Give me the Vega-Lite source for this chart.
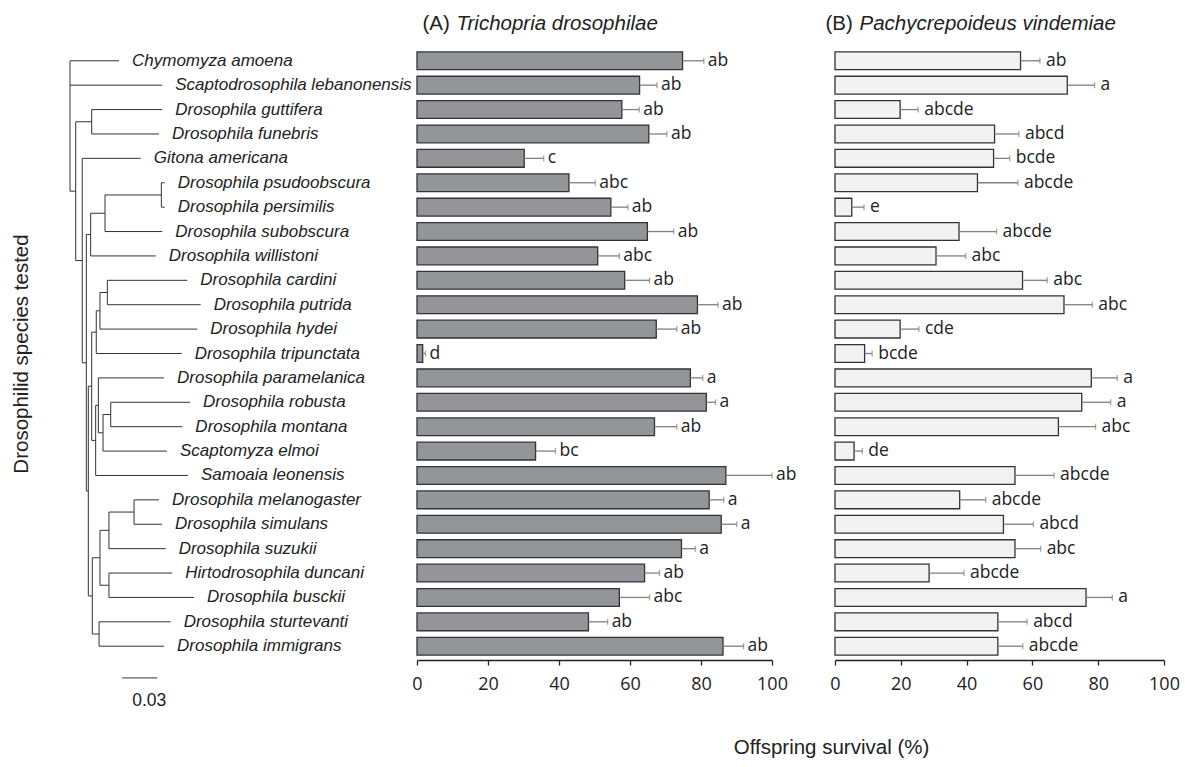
{
  "$schema": "https://vega.github.io/schema/vega-lite/v6.json",
  "background": "white",
  "padding": {"left": 11, "top": 13, "right": 5, "bottom": 5},
  "bounds": "flush",
  "spacing": 4,
  "config": {"view": {"stroke": null}, "font": "Liberation Sans"},
  "datasets": {
    "species": [
      {"row": 1, "species": "Chymomyza amoena", "tip": 0.0420, "A": 74.8, "Ahi": 80.8, "Alab": "ab", "B": 56.4, "Bhi": 62.3, "Blab": "ab"},
      {"row": 2, "species": "Scaptodrosophila lebanonensis", "tip": 0.0791, "A": 62.7, "Ahi": 67.6, "Alab": "ab", "B": 70.6, "Bhi": 78.9, "Blab": "a"},
      {"row": 3, "species": "Drosophila guttifera", "tip": 0.0791, "A": 57.7, "Ahi": 62.6, "Alab": "ab", "B": 19.8, "Bhi": 25.3, "Blab": "abcde"},
      {"row": 4, "species": "Drosophila funebris", "tip": 0.0763, "A": 65.3, "Ahi": 70.4, "Alab": "ab", "B": 48.5, "Bhi": 55.9, "Blab": "abcd"},
      {"row": 5, "species": "Gitona americana", "tip": 0.0606, "A": 30.2, "Ahi": 35.7, "Alab": "c", "B": 48.2, "Bhi": 53.1, "Blab": "bcde"},
      {"row": 6, "species": "Drosophila psudoobscura", "tip": 0.0812, "A": 42.8, "Ahi": 50.2, "Alab": "abc", "B": 43.3, "Bhi": 55.6, "Blab": "abcde"},
      {"row": 7, "species": "Drosophila persimilis", "tip": 0.0812, "A": 54.6, "Ahi": 59.4, "Alab": "ab", "B": 5.1, "Bhi": 8.8, "Blab": "e"},
      {"row": 8, "species": "Drosophila subobscura", "tip": 0.0791, "A": 64.9, "Ahi": 72.3, "Alab": "ab", "B": 37.7, "Bhi": 49.1, "Blab": "abcde"},
      {"row": 9, "species": "Drosophila willistoni", "tip": 0.0735, "A": 50.9, "Ahi": 57.0, "Alab": "abc", "B": 30.7, "Bhi": 39.7, "Blab": "abc"},
      {"row": 10, "species": "Drosophila cardini", "tip": 0.1005, "A": 58.5, "Ahi": 65.5, "Alab": "ab", "B": 57.0, "Bhi": 64.5, "Blab": "abc"},
      {"row": 11, "species": "Drosophila putrida", "tip": 0.1120, "A": 79.0, "Ahi": 84.8, "Alab": "ab", "B": 69.6, "Bhi": 78.2, "Blab": "abc"},
      {"row": 12, "species": "Drosophila hydei", "tip": 0.1091, "A": 67.4, "Ahi": 73.2, "Alab": "ab", "B": 19.8, "Bhi": 25.5, "Blab": "cde"},
      {"row": 13, "species": "Drosophila tripunctata", "tip": 0.0957, "A": 1.6, "Ahi": 2.4, "Alab": "d", "B": 9.0, "Bhi": 11.3, "Blab": "bcde"},
      {"row": 14, "species": "Drosophila paramelanica", "tip": 0.0806, "A": 77.0, "Ahi": 80.5, "Alab": "a", "B": 77.9, "Bhi": 85.8, "Blab": "a"},
      {"row": 15, "species": "Drosophila robusta", "tip": 0.1029, "A": 81.5, "Ahi": 84.1, "Alab": "a", "B": 75.0, "Bhi": 83.8, "Blab": "a"},
      {"row": 16, "species": "Drosophila montana", "tip": 0.0963, "A": 66.9, "Ahi": 73.2, "Alab": "ab", "B": 67.9, "Bhi": 79.2, "Blab": "abc"},
      {"row": 17, "species": "Scaptomyza elmoi", "tip": 0.0831, "A": 33.4, "Ahi": 39.0, "Alab": "bc", "B": 5.8, "Bhi": 8.3, "Blab": "de"},
      {"row": 18, "species": "Samoaia leonensis", "tip": 0.1011, "A": 87.0, "Ahi": 100.0, "Alab": "ab", "B": 54.7, "Bhi": 66.6, "Blab": "abcde"},
      {"row": 19, "species": "Drosophila melanogaster", "tip": 0.0763, "A": 82.3, "Ahi": 86.4, "Alab": "a", "B": 37.9, "Bhi": 45.8, "Blab": "abcde"},
      {"row": 20, "species": "Drosophila simulans", "tip": 0.0789, "A": 85.7, "Ahi": 90.1, "Alab": "a", "B": 51.2, "Bhi": 60.3, "Blab": "abcd"},
      {"row": 21, "species": "Drosophila suzukii", "tip": 0.0820, "A": 74.5, "Ahi": 78.4, "Alab": "a", "B": 54.7, "Bhi": 62.5, "Blab": "abc"},
      {"row": 22, "species": "Hirtodrosophila duncani", "tip": 0.0877, "A": 64.1, "Ahi": 68.3, "Alab": "ab", "B": 28.6, "Bhi": 39.2, "Blab": "abcde"},
      {"row": 23, "species": "Drosophila busckii", "tip": 0.1063, "A": 57.0, "Ahi": 65.5, "Alab": "abc", "B": 76.3, "Bhi": 84.3, "Blab": "a"},
      {"row": 24, "species": "Drosophila sturtevanti", "tip": 0.0863, "A": 48.3, "Ahi": 53.7, "Alab": "ab", "B": 49.5, "Bhi": 58.4, "Blab": "abcd"},
      {"row": 25, "species": "Drosophila immigrans", "tip": 0.0806, "A": 86.2, "Ahi": 92.0, "Alab": "ab", "B": 49.5, "Bhi": 57.1, "Blab": "abcde"}
    ],
    "tree": [
      {"x": 0, "x2": 0, "y": 1, "y2": 6.345},
      {"x": 0, "x2": 0.0420, "y": 1, "y2": 1},
      {"x": 0, "x2": 0.0791, "y": 2, "y2": 2},
      {"x": 0, "x2": 0.0049, "y": 6.345, "y2": 6.345},
      {"x": 0.0049, "x2": 0.0049, "y": 3.5, "y2": 9.19},
      {"x": 0.0049, "x2": 0.0186, "y": 3.5, "y2": 3.5},
      {"x": 0.0186, "x2": 0.0186, "y": 3, "y2": 4},
      {"x": 0.0186, "x2": 0.0791, "y": 3, "y2": 3},
      {"x": 0.0186, "x2": 0.0763, "y": 4, "y2": 4},
      {"x": 0.0049, "x2": 0.0105, "y": 9.19, "y2": 9.19},
      {"x": 0.0105, "x2": 0.0105, "y": 5, "y2": 13.38},
      {"x": 0.0105, "x2": 0.0606, "y": 5, "y2": 5},
      {"x": 0.0105, "x2": 0.0140, "y": 13.38, "y2": 13.38},
      {"x": 0.0140, "x2": 0.0140, "y": 8.125, "y2": 18.64},
      {"x": 0.0140, "x2": 0.0177, "y": 8.125, "y2": 8.125},
      {"x": 0.0177, "x2": 0.0177, "y": 7.25, "y2": 9},
      {"x": 0.0177, "x2": 0.0300, "y": 7.25, "y2": 7.25},
      {"x": 0.0300, "x2": 0.0300, "y": 6.5, "y2": 8},
      {"x": 0.0300, "x2": 0.0783, "y": 6.5, "y2": 6.5},
      {"x": 0.0783, "x2": 0.0783, "y": 6, "y2": 7},
      {"x": 0.0783, "x2": 0.0812, "y": 6, "y2": 6},
      {"x": 0.0783, "x2": 0.0812, "y": 7, "y2": 7},
      {"x": 0.0300, "x2": 0.0791, "y": 8, "y2": 8},
      {"x": 0.0177, "x2": 0.0735, "y": 9, "y2": 9},
      {"x": 0.0140, "x2": 0.0157, "y": 18.64, "y2": 18.64},
      {"x": 0.0157, "x2": 0.0157, "y": 14.34, "y2": 22.94},
      {"x": 0.0157, "x2": 0.0186, "y": 14.34, "y2": 14.34},
      {"x": 0.0186, "x2": 0.0186, "y": 12.125, "y2": 16.5625},
      {"x": 0.0186, "x2": 0.0225, "y": 12.125, "y2": 12.125},
      {"x": 0.0225, "x2": 0.0225, "y": 11.25, "y2": 13},
      {"x": 0.0225, "x2": 0.0257, "y": 11.25, "y2": 11.25},
      {"x": 0.0257, "x2": 0.0257, "y": 10.5, "y2": 12},
      {"x": 0.0257, "x2": 0.0320, "y": 10.5, "y2": 10.5},
      {"x": 0.0320, "x2": 0.0320, "y": 10, "y2": 11},
      {"x": 0.0320, "x2": 0.1005, "y": 10, "y2": 10},
      {"x": 0.0320, "x2": 0.1120, "y": 11, "y2": 11},
      {"x": 0.0257, "x2": 0.1091, "y": 12, "y2": 12},
      {"x": 0.0225, "x2": 0.0957, "y": 13, "y2": 13},
      {"x": 0.0186, "x2": 0.0220, "y": 16.5625, "y2": 16.5625},
      {"x": 0.0220, "x2": 0.0220, "y": 15.125, "y2": 18},
      {"x": 0.0220, "x2": 0.0243, "y": 15.125, "y2": 15.125},
      {"x": 0.0243, "x2": 0.0243, "y": 14, "y2": 16.25},
      {"x": 0.0243, "x2": 0.0806, "y": 14, "y2": 14},
      {"x": 0.0243, "x2": 0.0283, "y": 16.25, "y2": 16.25},
      {"x": 0.0283, "x2": 0.0283, "y": 15.5, "y2": 17},
      {"x": 0.0283, "x2": 0.0349, "y": 15.5, "y2": 15.5},
      {"x": 0.0349, "x2": 0.0349, "y": 15, "y2": 16},
      {"x": 0.0349, "x2": 0.1029, "y": 15, "y2": 15},
      {"x": 0.0349, "x2": 0.0963, "y": 16, "y2": 16},
      {"x": 0.0283, "x2": 0.0831, "y": 17, "y2": 17},
      {"x": 0.0220, "x2": 0.1011, "y": 18, "y2": 18},
      {"x": 0.0157, "x2": 0.0191, "y": 22.94, "y2": 22.94},
      {"x": 0.0191, "x2": 0.0191, "y": 21.375, "y2": 24.5},
      {"x": 0.0191, "x2": 0.0257, "y": 21.375, "y2": 21.375},
      {"x": 0.0257, "x2": 0.0257, "y": 20.25, "y2": 22.5},
      {"x": 0.0257, "x2": 0.0334, "y": 20.25, "y2": 20.25},
      {"x": 0.0334, "x2": 0.0334, "y": 19.5, "y2": 21},
      {"x": 0.0334, "x2": 0.0549, "y": 19.5, "y2": 19.5},
      {"x": 0.0549, "x2": 0.0549, "y": 19, "y2": 20},
      {"x": 0.0549, "x2": 0.0763, "y": 19, "y2": 19},
      {"x": 0.0549, "x2": 0.0789, "y": 20, "y2": 20},
      {"x": 0.0334, "x2": 0.0820, "y": 21, "y2": 21},
      {"x": 0.0257, "x2": 0.0334, "y": 22.5, "y2": 22.5},
      {"x": 0.0334, "x2": 0.0334, "y": 22, "y2": 23},
      {"x": 0.0334, "x2": 0.0877, "y": 22, "y2": 22},
      {"x": 0.0334, "x2": 0.1063, "y": 23, "y2": 23},
      {"x": 0.0191, "x2": 0.0249, "y": 24.5, "y2": 24.5},
      {"x": 0.0249, "x2": 0.0249, "y": 24, "y2": 25},
      {"x": 0.0249, "x2": 0.0863, "y": 24, "y2": 24},
      {"x": 0.0249, "x2": 0.0806, "y": 25, "y2": 25}
    ],
    "scalebar": [
      {"x": 0.0448, "x2": 0.0748, "y": 26.3, "ty": 27.25, "label": "0.03"}
    ]
  },
  "hconcat": [
    {
      "width": 350,
      "height": 613,
      "layer": [
        {
          "data": {"name": "tree"},
          "mark": {"type": "rule", "color": "#333333", "strokeWidth": 1},
          "encoding": {
            "x": {"field": "x", "type": "quantitative", "scale": {"domain": [-0.006, 0.294], "nice": false, "zero": false}, "axis": null},
            "x2": {"field": "x2"},
            "y": {"field": "y", "type": "quantitative", "title": "Drosophilid species tested",
                  "scale": {"domain": [0.435, 25.565], "reverse": true, "nice": false, "zero": false},
                  "axis": {"labels": false, "ticks": false, "domain": false, "grid": false, "titleFont": "Liberation Sans", "titleFontSize": 20.5, "titleFontWeight": "normal", "titleColor": "#222222", "titlePadding": 32}},
            "y2": {"field": "y2"}
          }
        },
        {
          "data": {"name": "species"},
          "mark": {"type": "text", "align": "left", "baseline": "middle", "dx": 13, "font": "Liberation Sans", "fontStyle": "italic", "fontSize": 17, "color": "#222222"},
          "encoding": {
            "x": {"field": "tip", "type": "quantitative", "axis": null},
            "y": {"field": "row", "type": "quantitative", "title": "Drosophilid species tested"},
            "text": {"field": "species"}
          }
        },
        {
          "data": {"name": "scalebar"},
          "mark": {"type": "rule", "color": "#333333", "strokeWidth": 1},
          "encoding": {
            "x": {"field": "x", "type": "quantitative", "axis": null},
            "x2": {"field": "x2"},
            "y": {"field": "y", "type": "quantitative", "title": "Drosophilid species tested"}
          }
        },
        {
          "data": {"name": "scalebar"},
          "mark": {"type": "text", "align": "left", "baseline": "middle", "dx": 10, "font": "Liberation Sans", "fontSize": 17.5, "color": "#222222"},
          "encoding": {
            "x": {"field": "x", "type": "quantitative", "axis": null},
            "y": {"field": "ty", "type": "quantitative", "title": "Drosophilid species tested"},
            "text": {"field": "label"}
          }
        }
      ]
    },
    {
      "spacing": 63,
      "bounds": "flush",
      "hconcat": [
        {
          "width": 355,
          "height": 613,
          "data": {"name": "species"},
          "encoding": {
            "y": {"field": "row", "type": "ordinal", "scale": {"paddingInner": 0.27, "paddingOuter": 0.2}, "axis": null}
          },
          "resolve": {"axis": {"x": "independent"}},
          "layer": [
            {
              "mark": {"type": "bar", "fill": "#939598", "stroke": "#333333", "strokeWidth": 1.3},
              "encoding": {
                "x": {"field": "A", "type": "quantitative", "scale": {"domain": [0, 100], "nice": false},
                      "axis": {"values": [0, 20, 40, 60, 80, 100], "title": null, "grid": false, "tickSize": 5, "tickColor": "#222222", "tickWidth": 1.3, "domainColor": "#222222", "domainWidth": 1.3,
                               "labelFont": "Open Sans", "labelFontSize": 18, "labelColor": "#222222", "labelPadding": 10, "labelFlush": false}}
              }
            },
            {
              "mark": {"type": "rule", "color": "#808080", "strokeWidth": 1.3},
              "encoding": {
                "x": {"field": "A", "type": "quantitative",
                      "axis": {"orient": "top", "title": "Trichopria drosophilae", "labels": false, "ticks": false, "domain": false, "grid": false,
                               "titleFont": "Liberation Sans", "titleFontSize": 20.5, "titleFontWeight": "normal", "titleFontStyle": "italic", "titleColor": "#222222",
                               "titleAnchor": "start", "titleAlign": "left", "titleBaseline": "alphabetic", "titleX": 39, "titleY": -18}},
                "x2": {"field": "Ahi"}
              }
            },
            {
              "mark": {"type": "tick", "color": "#808080", "thickness": 1.3, "size": 6},
              "encoding": {"x": {"field": "Ahi", "type": "quantitative",
                      "axis": {"orient": "top", "title": "(A)", "labels": false, "ticks": false, "domain": false, "grid": false,
                               "titleFont": "Liberation Sans", "titleFontSize": 20.5, "titleFontWeight": "normal", "titleColor": "#222222",
                               "titleAnchor": "start", "titleAlign": "left", "titleBaseline": "alphabetic", "titleX": 5, "titleY": -18}}}
            },
            {
              "mark": {"type": "text", "align": "left", "baseline": "middle", "dx": 4, "font": "Open Sans", "fontSize": 17.5, "color": "#222222"},
              "encoding": {"x": {"field": "Ahi", "type": "quantitative", "axis": null}, "text": {"field": "Alab"}}
            }
          ]
        },
        {
          "width": 329,
          "height": 613,
          "data": {"name": "species"},
          "encoding": {
            "y": {"field": "row", "type": "ordinal", "scale": {"paddingInner": 0.27, "paddingOuter": 0.2}, "axis": null}
          },
          "resolve": {"axis": {"x": "independent"}},
          "layer": [
            {
              "mark": {"type": "bar", "fill": "#f2f2f2", "stroke": "#333333", "strokeWidth": 1.3},
              "encoding": {
                "x": {"field": "B", "type": "quantitative", "scale": {"domain": [0, 100], "nice": false},
                      "axis": {"values": [0, 20, 40, 60, 80, 100], "title": "Offspring survival (%)", "grid": false, "tickSize": 5, "tickColor": "#222222", "tickWidth": 1.3, "domainColor": "#222222", "domainWidth": 1.3,
                               "labelFont": "Open Sans", "labelFontSize": 18, "labelColor": "#222222", "labelPadding": 10, "labelFlush": false,
                               "titleFont": "Liberation Sans", "titleFontSize": 20.5, "titleFontWeight": "normal", "titleColor": "#222222", "titlePadding": 44, "titleX": -4}}
              }
            },
            {
              "mark": {"type": "rule", "color": "#808080", "strokeWidth": 1.3},
              "encoding": {
                "x": {"field": "B", "type": "quantitative",
                      "axis": {"orient": "top", "title": "Pachycrepoideus vindemiae", "labels": false, "ticks": false, "domain": false, "grid": false,
                               "titleFont": "Liberation Sans", "titleFontSize": 20.5, "titleFontWeight": "normal", "titleFontStyle": "italic", "titleColor": "#222222",
                               "titleAnchor": "start", "titleAlign": "left", "titleBaseline": "alphabetic", "titleX": 24, "titleY": -18}},
                "x2": {"field": "Bhi"}
              }
            },
            {
              "mark": {"type": "tick", "color": "#808080", "thickness": 1.3, "size": 6},
              "encoding": {"x": {"field": "Bhi", "type": "quantitative",
                      "axis": {"orient": "top", "title": "(B)", "labels": false, "ticks": false, "domain": false, "grid": false,
                               "titleFont": "Liberation Sans", "titleFontSize": 20.5, "titleFontWeight": "normal", "titleColor": "#222222",
                               "titleAnchor": "start", "titleAlign": "left", "titleBaseline": "alphabetic", "titleX": -10, "titleY": -18}}}
            },
            {
              "mark": {"type": "text", "align": "left", "baseline": "middle", "dx": 6, "font": "Open Sans", "fontSize": 17.5, "color": "#222222"},
              "encoding": {"x": {"field": "Bhi", "type": "quantitative", "axis": null}, "text": {"field": "Blab"}}
            }
          ]
        }
      ]
    }
  ]
}
